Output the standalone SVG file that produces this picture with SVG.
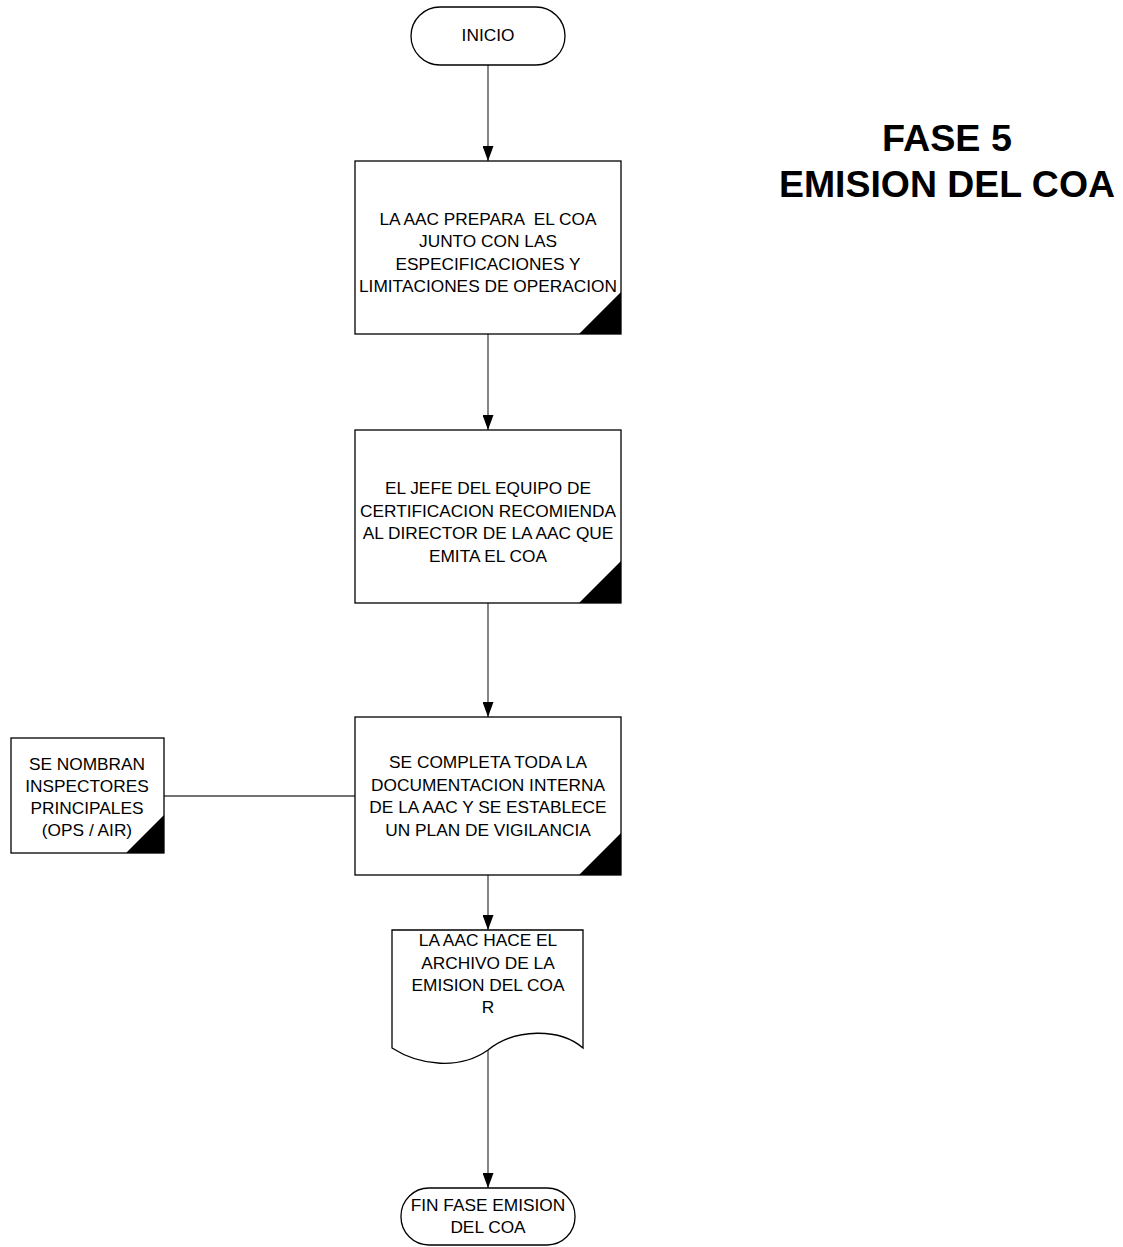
<svg xmlns="http://www.w3.org/2000/svg" width="1123" height="1247" viewBox="0 0 1123 1247">
<style>
.sh{fill:#fff;stroke:#000;stroke-width:1.3}
.tri{fill:#000}
.t{font-family:"Liberation Sans",Arial,sans-serif;font-size:17.3px;fill:#000;text-anchor:middle}
.ttl{font-family:"Liberation Sans",Arial,sans-serif;font-size:36px;font-weight:bold;fill:#000;text-anchor:middle}
.c{stroke:#444;stroke-width:1.3;fill:none}
</style>
<defs>
<marker id="arr" markerWidth="15" markerHeight="11" refX="15" refY="5.5" orient="auto" markerUnits="userSpaceOnUse" viewBox="0 0 15 11">
<path d="M0,0 L15,5.5 L0,11 Z" fill="#000"/>
</marker>
</defs>
<rect width="1123" height="1247" fill="#fff"/>
<g id="title">
<text class="ttl" x="947" y="151" textLength="130" lengthAdjust="spacingAndGlyphs">FASE 5</text>
<text class="ttl" x="947" y="197" textLength="336" lengthAdjust="spacingAndGlyphs">EMISION DEL COA</text>
</g>
<g id="connectors">
<line class="c" x1="488" y1="65" x2="488" y2="161" marker-end="url(#arr)"/>
<line class="c" x1="488" y1="334" x2="488" y2="430" marker-end="url(#arr)"/>
<line class="c" x1="488" y1="603" x2="488" y2="717" marker-end="url(#arr)"/>
<line class="c" x1="488" y1="875" x2="488" y2="930" marker-end="url(#arr)"/>
<line class="c" x1="488" y1="1050" x2="488" y2="1188" marker-end="url(#arr)"/>
<line class="c" x1="164" y1="796" x2="355" y2="796"/>
</g>
<g id="inicio">
<rect class="sh" x="411" y="7" width="154" height="58" rx="29" ry="29"/>
<text class="t" x="488" y="41">INICIO</text>
</g>
<g id="box1">
<rect class="sh" x="355" y="161" width="266" height="173"/>
<polygon class="tri" points="621,292 621,334 579,334"/>
<text class="t" x="488" y="225" xml:space="preserve">LA AAC PREPARA  EL COA</text>
<text class="t" x="488" y="247">JUNTO CON LAS</text>
<text class="t" x="488" y="270">ESPECIFICACIONES Y</text>
<text class="t" x="488" y="292">LIMITACIONES DE OPERACION</text>
</g>
<g id="box2">
<rect class="sh" x="355" y="430" width="266" height="173"/>
<polygon class="tri" points="621,561 621,603 579,603"/>
<text class="t" x="488" y="494">EL JEFE DEL EQUIPO DE</text>
<text class="t" x="488" y="517">CERTIFICACION RECOMIENDA</text>
<text class="t" x="488" y="539">AL DIRECTOR DE LA AAC QUE</text>
<text class="t" x="488" y="562">EMITA EL COA</text>
</g>
<g id="box3">
<rect class="sh" x="355" y="717" width="266" height="158"/>
<polygon class="tri" points="621,833 621,875 579,875"/>
<text class="t" x="488" y="768">SE COMPLETA TODA LA</text>
<text class="t" x="488" y="791">DOCUMENTACION INTERNA</text>
<text class="t" x="488" y="813">DE LA AAC Y SE ESTABLECE</text>
<text class="t" x="488" y="836">UN PLAN DE VIGILANCIA</text>
</g>
<g id="box-inspectores">
<rect class="sh" x="11" y="738" width="153" height="115"/>
<polygon class="tri" points="164,815 164,853 126,853"/>
<text class="t" x="87" y="770">SE NOMBRAN</text>
<text class="t" x="87" y="792">INSPECTORES</text>
<text class="t" x="87" y="814">PRINCIPALES</text>
<text class="t" x="87" y="836">(OPS / AIR)</text>
</g>
<g id="doc">
<path class="sh" d="M392,930 L583,930 L583,1048 C560,1028 515,1028 488,1050 C460,1070 420,1066 392,1048 Z"/>
<text class="t" x="488" y="946">LA AAC HACE EL</text>
<text class="t" x="488" y="969">ARCHIVO DE LA</text>
<text class="t" x="488" y="991">EMISION DEL COA</text>
<text class="t" x="488" y="1013">R</text>
</g>
<g id="fin">
<rect class="sh" x="401" y="1188" width="174" height="57" rx="28" ry="28"/>
<text class="t" x="488" y="1211">FIN FASE EMISION</text>
<text class="t" x="488" y="1233">DEL COA</text>
</g>
</svg>
